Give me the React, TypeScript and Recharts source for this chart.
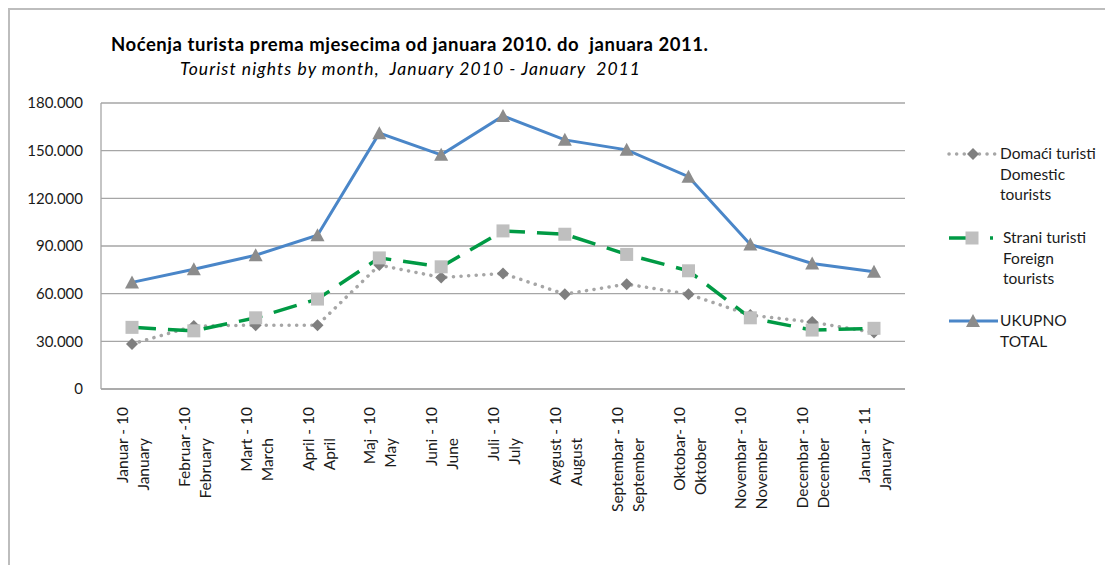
import { LineChart, Line, XAxis, YAxis, CartesianGrid, Legend } from "recharts";

// month labels: local line + english line
const monthsLocal = [
  "Januar - 10",
  "Februar -10",
  "Mart - 10",
  "April - 10",
  "Maj - 10",
  "Juni - 10",
  "Juli - 10",
  "Avgust - 10",
  "Septembar - 10",
  "Oktobar- 10",
  "Novembar - 10",
  "Decembar - 10",
  "Januar - 11",
];
const monthsEnglish = [
  "January",
  "February",
  "March",
  "April",
  "May",
  "June",
  "July",
  "August",
  "September",
  "Oktober",
  "November",
  "December",
  "January",
];

const domesticNights = [28300, 39600, 40200, 40200, 78000, 70200, 72700, 59700, 66000, 59700, 46500, 42100, 35500];
const foreignNights = [38800, 36600, 44800, 56600, 82500, 76900, 99500, 97400, 84700, 74400, 44800, 37100, 38200];
const totalNights = [67100, 75400, 84200, 96800, 161000, 147400, 171800, 156800, 150500, 133600, 91000, 79000, 73800];

const yTicks = [0, 30000, 60000, 90000, 120000, 150000, 180000];

const legendDomestic = ["Domaći turisti", "Domestic", "tourists"];
const legendForeign = ["Strani turisti", "Foreign", "tourists"];
const legendTotal = ["UKUPNO", "TOTAL"];

const chartData = monthsLocal.map((m, i) => ({
  name: m,
  domestic: domesticNights[i],
  foreign: foreignNights[i],
  total: totalNights[i],
}));

const FONT = "Lato, 'Noto Sans', sans-serif";
const TEXT = "#1a1a1a";
const GRID = "#a6a6a6";
const GREEN = "#009a44";
const BLUE = "#4a86c8";

const fmt = (v: number) => String(v).replace(/\B(?=(\d{3})+(?!\d))/g, ".");

const Diamond = ({ cx, cy }: any) => (
  <polygon points={`${cx},${cy - 6} ${cx + 6},${cy} ${cx},${cy + 6} ${cx - 6},${cy}`} fill="#7f7f7f" />
);
const Square = ({ cx, cy }: any) => <rect x={cx - 6.5} y={cy - 6.5} width={13} height={13} fill="#bfbfbf" />;
const Triangle = ({ cx, cy }: any) => (
  <polygon points={`${cx},${cy - 7} ${cx + 7},${cy + 6} ${cx - 7},${cy + 6}`} fill="#8c8c8c" />
);

const MonthTick = ({ x, y, payload, index }: any) => (
  <g transform={`translate(${x},${y})`}>
    <text transform="rotate(-90)" x={-18} y={-4} textAnchor="end" fontSize={15.5} fontFamily={FONT} fill={TEXT}>
      {payload.value}
    </text>
    <text transform="rotate(-90)" x={-49} y={17} textAnchor="end" fontSize={15.5} fontFamily={FONT} fill={TEXT}>
      {monthsEnglish[index]}
    </text>
  </g>
);

const legendText = (lines: string[], x: number, y0: number) =>
  lines.map((t, i) => (
    <text key={t + i} x={x} y={y0 + i * 20.5} fontSize={15.5} fontFamily={FONT} fill={TEXT}>
      {t}
    </text>
  ));

const renderLegend = () => (
  <svg width={165} height={220}>
    {/* domestic */}
    <line x1={9} y1={14} x2={57} y2={14} stroke={GRID} strokeWidth={3.5} strokeDasharray="0.1 7.5" strokeLinecap="round" />
    <Diamond cx={33} cy={14} />
    {legendText(legendDomestic, 60, 19)}
    {/* foreign */}
    <line x1={9} y1={98} x2={30} y2={98} stroke={GREEN} strokeWidth={3.5} />
    <line x1={50} y1={98} x2={53} y2={98} stroke={GREEN} strokeWidth={3.5} />
    <Square cx={32} cy={98} />
    {legendText(legendForeign, 63, 103)}
    {/* total */}
    <line x1={9} y1={181} x2={58} y2={181} stroke={BLUE} strokeWidth={3} />
    <Triangle cx={33} cy={181} />
    {legendText(legendTotal, 60, 186)}
  </svg>
);

export default function App() {
  return (
    <div style={{ position: "absolute", left: 0, top: 0, width: 1105, height: 565, background: "#fff", overflow: "hidden" }}>
      <div
        style={{
          position: "absolute",
          left: 8,
          top: 8,
          width: 1097,
          height: 557,
          borderTop: "2px solid #bdbdbd",
          borderLeft: "2px solid #bdbdbd",
          boxSizing: "border-box",
        }}
      />
      <svg width={1105} height={90} style={{ position: "absolute", left: 0, top: 0 }}>
        <text
          x={111}
          y={51}
          fontSize={18.5}
          fontWeight="bold"
          fontFamily={FONT}
          fill="#000"
          textLength={597}
          style={{ whiteSpace: "pre" }}
        >
          {"Noćenja turista prema mjesecima od januara 2010. do  januara 2011."}
        </text>
        <text
          x={180}
          y={75}
          fontSize={17.5}
          fontStyle="italic"
          fontFamily={FONT}
          fill="#000"
          textLength={460}
          style={{ whiteSpace: "pre" }}
        >
          {"Tourist nights by month,  January 2010 - January  2011"}
        </text>
      </svg>
      <div style={{ position: "absolute", left: 0, top: 0 }}>
        <LineChart width={1105} height={565} data={chartData} margin={{ top: 103, right: 35, bottom: 26, left: 41 }}>
          <CartesianGrid vertical={false} stroke={GRID} strokeWidth={1.3} />
          <XAxis
            dataKey="name"
            height={150}
            interval={0}
            padding={{ left: 31, right: 31 }}
            tickLine={false}
            tickSize={0}
            tickMargin={0}
            axisLine={{ stroke: GRID, strokeWidth: 1.3 }}
            tick={<MonthTick />}
          />
          <YAxis
            width={60}
            domain={[0, 180000]}
            ticks={yTicks}
            tickFormatter={fmt}
            tickLine={false}
            tickSize={0}
            tickMargin={18}
            axisLine={{ stroke: GRID, strokeWidth: 1.3 }}
            tick={{ fontSize: 15, fontFamily: FONT, fill: TEXT }}
          />
          <Legend
            layout="vertical"
            align="right"
            verticalAlign="top"
            wrapperStyle={{ left: 940, top: 140, width: 165, height: 220 }}
            content={renderLegend}
          />
          <Line
            dataKey="domestic"
            name="Domaći turisti"
            stroke={GRID}
            strokeWidth={3.5}
            strokeDasharray="0.1 7.5"
            strokeLinecap="round"
            dot={(p: any) => <Diamond key={`d${p.index}`} cx={p.cx} cy={p.cy} />}
            activeDot={false}
            isAnimationActive={false}
          />
          <Line
            dataKey="foreign"
            name="Strani turisti"
            stroke={GREEN}
            strokeWidth={3.5}
            strokeDasharray="24 12"
            dot={(p: any) => <Square key={`f${p.index}`} cx={p.cx} cy={p.cy} />}
            activeDot={false}
            isAnimationActive={false}
          />
          <Line
            dataKey="total"
            name="UKUPNO"
            stroke={BLUE}
            strokeWidth={3}
            dot={(p: any) => <Triangle key={`t${p.index}`} cx={p.cx} cy={p.cy} />}
            activeDot={false}
            isAnimationActive={false}
          />
        </LineChart>
      </div>
    </div>
  );
}
